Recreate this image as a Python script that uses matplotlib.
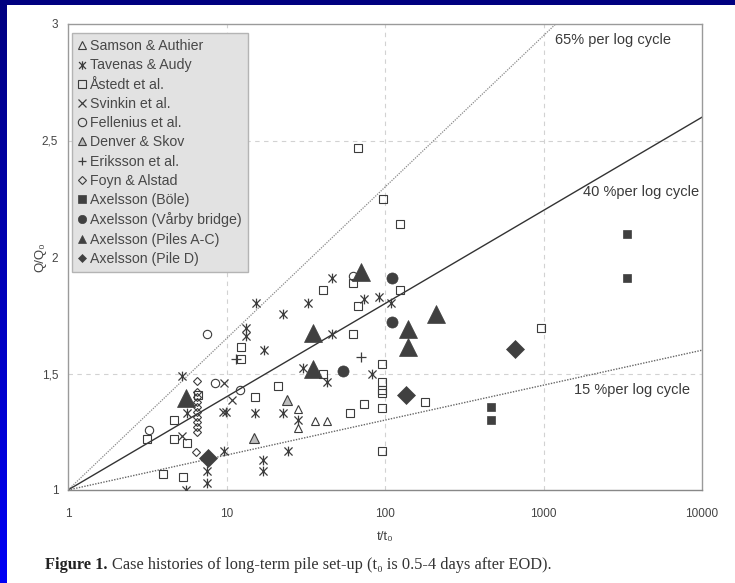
import numpy as np
import matplotlib
matplotlib.use('Agg')
import matplotlib.pyplot as plt
from matplotlib.patches import Rectangle
from matplotlib.path import Path
from matplotlib.colors import LinearSegmentedColormap

# ---------------- data (t/t0, Q/Q0) ----------------
samson_x = [28.4, 28.4, 36.2, 43.2]
samson_y = [1.348, 1.265, 1.298, 1.298]

tavenas_x = [15.3, 32.8, 22.7, 13.27, 13.27, 17.25, 30.5, 5.61, 9.9, 15.1, 22.7, 28.4,
             9.64, 24.5, 17.1, 17.1, 7.5, 7.5, 5.53, 46.2, 73.4, 91.7, 109.4, 46.2,
             43.2, 83.2, 5.22]
tavenas_y = [1.801, 1.801, 1.754, 1.697, 1.661, 1.601, 1.522, 1.329, 1.336, 1.329, 1.329, 1.300,
             1.168, 1.168, 1.129, 1.081, 1.081, 1.029, 1.000, 1.911, 1.820, 1.827, 1.801, 1.670,
             1.465, 1.496, 1.490]

astedt_x = [12.35, 12.35, 21.0, 15.1, 4.67, 3.14, 4.67, 5.61, 3.96, 5.32, 6.58,
            67.5, 97.6, 124.3, 63.1, 40.9, 124.3, 67.5, 62.5, 96.2, 40.9, 96.2, 95.3,
            95.3, 178.8, 73.4, 60.1, 96.2, 95.3, 964]
astedt_y = [1.612, 1.562, 1.448, 1.400, 1.300, 1.219, 1.219, 1.200, 1.069, 1.057, 1.408,
            2.469, 2.249, 2.140, 1.887, 1.858, 1.858, 1.791, 1.670, 1.539, 1.496, 1.465, 1.429,
            1.415, 1.379, 1.369, 1.329, 1.351, 1.168, 1.694]

svinkin_x = [9.64, 10.78, 9.46, 5.22]
svinkin_y = [1.458, 1.386, 1.336, 1.233]

fellenius_x = [7.5, 8.46, 12.17, 3.26, 63.1]
fellenius_y = [1.670, 1.458, 1.429, 1.258, 1.920]

denver_x = [24.1, 14.9]
denver_y = [1.386, 1.225]

eriksson_x = [11.43, 70.1]
eriksson_y = [1.562, 1.570]

foyn_x = [6.49] * 10 + [6.42]
foyn_y = [1.469, 1.422, 1.400, 1.379, 1.358, 1.336, 1.315, 1.293, 1.272, 1.250, 1.162]

bole_x = [3350, 3350, 466.7, 466.7]
bole_y = [2.099, 1.909, 1.358, 1.300]

varby_x = [110.2, 110.2, 54.1]
varby_y = [1.911, 1.722, 1.511]

pilesAC_x = [5.55, 35.3, 35.3, 70.1, 139, 139, 208.9]
pilesAC_y = [1.394, 1.672, 1.518, 1.937, 1.690, 1.612, 1.755]

pileD_x = [7.61, 135.1, 661]
pileD_y = [1.139, 1.408, 1.604]

rates = [0.65, 0.40, 0.15]
rate_labels = ["65% per log cycle", "40 %per log cycle", "15 %per log cycle"]
rate_label_pos = [(1180, 2.93), (1776, 2.279), (1554, 1.43)]

x_ticks = [1, 10, 100, 1000, 10000]
x_ticklabels = ["1", "10", "100", "1000", "10000"]
y_ticks = [1, 1.5, 2, 2.5, 3]
y_ticklabels = ["1", "1,5", "2", "2,5", "3"]

# ---------------- figure ----------------
W, H = 735, 583
fig = plt.figure(figsize=(W / 100, H / 100), dpi=100)

# slide background (gradient blue) and white scanned page
bg = fig.add_axes([0, 0, 1, 1], zorder=-3)
grad = np.linspace(0, 1, 256).reshape(-1, 1)
cmap = LinearSegmentedColormap.from_list("slide", ["#000080", "#0000f5"])
bg.imshow(grad, aspect='auto', cmap=cmap, extent=[0, 1, 0, 1], origin='upper')
bg.set_axis_off()
fig.add_artist(Rectangle((7 / W, 0), 1 - 7 / W, (H - 5) / H, transform=fig.transFigure,
                         facecolor='white', edgecolor='none', zorder=-2))

ax = fig.add_axes([68 / W, (H - 490) / H, (702 - 68) / W, (490 - 24) / H], zorder=1)
ax.set_facecolor('none')
ax.set_xscale('log')
ax.set_xlim(1, 10000)
ax.set_ylim(1, 3)

# grid
for xv in [10, 100, 1000]:
    ax.axvline(xv, color='#d2d2d2', lw=0.8, ls=(0, (4, 4)), zorder=0)
for yv in [1.5, 2.5]:
    ax.axhline(yv, color='#d2d2d2', lw=0.8, ls=(0, (4, 4)), zorder=0)

# reference lines
xl = np.logspace(0, 4, 200)
styles = [dict(color='#8a8a8a', lw=0.9, ls=(0, (1, 1))),
          dict(color='#333333', lw=1.0, ls='-'),
          dict(color='#666666', lw=1.0, ls=(0, (1, 1)))]
for r, st in zip(rates, styles):
    ax.plot(xl, 1 + r * np.log10(xl), zorder=1, **st)
for txt, (tx, ty) in zip(rate_labels, rate_label_pos):
    ax.text(tx, ty, txt, fontsize=10.5, color='#3a3a3a', family='Liberation Sans',
            ha='left', va='center', zorder=3)

# tavenas marker: X with vertical bar
ast = Path([(-1, -1), (1, 1), (-1, 1), (1, -1), (0, -1.2), (0, 1.2)],
           [Path.MOVETO, Path.LINETO, Path.MOVETO, Path.LINETO, Path.MOVETO, Path.LINETO])

ec = '#3c3c3c'
fc = '#404040'
ms_small = 6
series = [
    ("Samson & Authier", samson_x, samson_y, dict(marker='^', ms=ms_small, mfc='none', mec=ec, mew=0.8)),
    ("Tavenas & Audy", tavenas_x, tavenas_y, dict(marker=ast, ms=7, mfc='none', mec=ec, mew=0.9)),
    ("Åstedt et al.", astedt_x, astedt_y, dict(marker='s', ms=ms_small, mfc='none', mec=ec, mew=0.8)),
    ("Svinkin et al.", svinkin_x, svinkin_y, dict(marker='x', ms=ms_small, mfc='none', mec=ec, mew=0.9)),
    ("Fellenius et al.", fellenius_x, fellenius_y, dict(marker='o', ms=ms_small, mfc='none', mec=ec, mew=0.8)),
    ("Denver & Skov", denver_x, denver_y, dict(marker='^', ms=ms_small + 1, mfc='#bdbdbd', mec=ec, mew=0.8)),
    ("Eriksson et al.", eriksson_x, eriksson_y, dict(marker='+', ms=ms_small + 1, mfc='none', mec=ec, mew=0.9)),
    ("Foyn & Alstad", foyn_x, foyn_y, dict(marker='D', ms=4.5, mfc='none', mec=ec, mew=0.8)),
    ("Axelsson (Böle)", bole_x, bole_y, dict(marker='s', ms=6, mfc=fc, mec=fc, mew=0.5)),
    ("Axelsson (Vårby bridge)", varby_x, varby_y, dict(marker='o', ms=8, mfc=fc, mec=fc, mew=0.5)),
    ("Axelsson (Piles A-C)", pilesAC_x, pilesAC_y, dict(marker='^', ms=13, mfc=fc, mec=fc, mew=0.5)),
    ("Axelsson (Pile D)", pileD_x, pileD_y, dict(marker='D', ms=9, mfc=fc, mec=fc, mew=0.5)),
]
handles = []
for name, xs, ys, st in series:
    ax.plot(xs, ys, ls='none', zorder=4, **st)
    lst = dict(st)
    lst['ms'] = min(st['ms'], 6)
    if st['marker'] == 'D':
        lst['ms'] = 4.5
    h, = ax.plot([], [], ls='none', label=name, **lst)
    handles.append(h)

leg = ax.legend(handles=handles, loc='upper left', bbox_to_anchor=(0.006, 0.981),
                prop={'family': 'Liberation Sans', 'size': 10.2}, frameon=True, fancybox=False,
                facecolor='#e2e2e2', edgecolor='#b4b4b4', framealpha=1,
                labelspacing=0.37, handlelength=0.5, handletextpad=0.3, borderpad=0.45,
                borderaxespad=0)
for t in leg.get_texts():
    t.set_color('#484848')
leg.set_zorder(5)

# axes styling
for s in ax.spines.values():
    s.set_color('#9a9a9a')
    s.set_linewidth(1.0)
ax.spines['bottom'].set_color('#888888')
ax.tick_params(which='both', length=0)
ax.set_xticks(x_ticks)
ax.set_xticklabels(x_ticklabels)
ax.minorticks_off()
ax.set_yticks(y_ticks)
ax.set_yticklabels(y_ticklabels)
ax.tick_params(axis='x', pad=13, labelsize=8.5, labelcolor='#444444')
ax.tick_params(axis='y', pad=7, labelsize=8.5, labelcolor='#444444')
for lab in ax.get_xticklabels() + ax.get_yticklabels():
    lab.set_family('Liberation Sans')

ax.set_xlabel("t/t₀", family=['Liberation Sans', 'DejaVu Sans'], fontsize=9.5, color='#444444', labelpad=8)
ax.set_ylabel("Q/Q₀", family=['Liberation Sans', 'DejaVu Sans'], fontsize=9.5, color='#444444', labelpad=-3)

# caption
fig.canvas.draw()
cap_y = 1 - 565 / H
t1 = fig.text(45 / W, cap_y, "Figure 1.", family=['Liberation Serif', 'DejaVu Serif'],
              weight='bold', fontsize=11.8, color='#222222', va='center', ha='left')
fig.canvas.draw()
bb = t1.get_window_extent()
fig.text((bb.x1 + 4) / W, cap_y,
         "Case histories of long-term pile set-up (t₀ is 0.5-4 days after EOD).",
         family=['Liberation Serif', 'DejaVu Serif'], fontsize=11.8, color='#333333',
         va='center', ha='left')

fig.savefig("out.png", dpi=100)
